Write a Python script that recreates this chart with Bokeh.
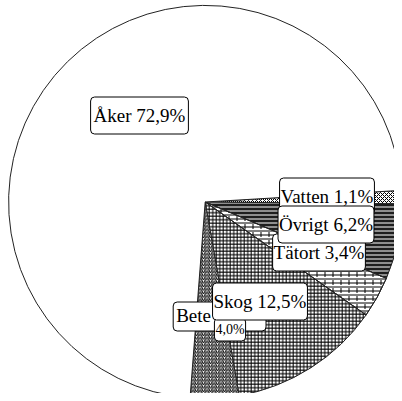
import numpy as np
from bokeh.plotting import figure
from bokeh.models import Range1d, ColumnDataSource
from bokeh.core.properties import value
from bokeh.embed import file_html
from bokeh.resources import INLINE

# ---- data (clockwise from the right-hand side) ----
categories = ["Vatten", "Övrigt", "Tätort", "Skog", "Bete", "Åker"]
shares = [1.1, 6.2, 3.4, 12.5, 4.0, 72.9]

# ---- styles ----
hatch_patterns = ["diagonal_cross", "horizontal_line", "horizontal_line", "cross",
                  "right_diagonal_line", "blank"]
fill_colors = ["white", "#1e1e1e", "white", "white", "white", "white"]
hatch_colors = ["black", "white", "black", "black", "black", "black"]
hatch_scales = [4, 4, 4, 3.5, 3.5, 4]

W, H = 394, 393
CX, CY, R = 204.7, 191.5, 196.6
START_DEG = 3.4

frac = np.array(shares) / sum(shares)
cum = np.cumsum(frac)
a0 = np.deg2rad(START_DEG)
upper = a0 - 2 * np.pi * np.concatenate([[0.0], cum[:-1]])
lower = a0 - 2 * np.pi * cum

src = ColumnDataSource(dict(
    cat=categories, share=shares, start=lower, end=upper,
    hatch=hatch_patterns, fill=fill_colors, hcol=hatch_colors, hscale=hatch_scales,
))

p = figure(width=W, height=H, x_range=Range1d(0, W), y_range=Range1d(0, H),
           output_backend="svg", toolbar_location=None, min_border=0,
           x_axis_type=None, y_axis_type=None, title=None)
p.outline_line_color = None
p.background_fill_color = "white"
p.border_fill_color = "white"

p.wedge(x=CX, y=CY, radius=R, start_angle="start", end_angle="end",
        direction="anticlock", source=src, fill_color="fill",
        hatch_pattern="hatch", hatch_color="hcol", hatch_scale="hscale",
        hatch_weight=1, line_color="#222222", line_width=1)

# brick joints for Tätort
ti = categories.index("Tätort")
p.wedge(x=CX, y=CY, radius=R, start_angle=lower[ti], end_angle=upper[ti],
        direction="anticlock", fill_alpha=0, hatch_pattern="vertical_dash",
        hatch_color="black", hatch_scale=8, hatch_weight=1, line_color="#222222", line_width=1)

def fmt(name, v):
    return f"{name} {v:.1f}%".replace(".", ",")

lab = {c: fmt(c, v) for c, v in zip(categories, shares)}

FONT = value("Liberation Serif")
FS = "19px"
common = dict(text_font=FONT, text_color="black", background_fill_color="white",
              border_line_color="black", border_line_width=1, border_radius=4)

# Åker
p.text(x=[139], y=[278], text=[lab["Åker"]], text_font_size=FS,
       text_align="center", text_baseline="middle", padding=(3, 8), **common)
# Bete (partly hidden)
bi = categories.index("Bete")
p.text(x=[172.7], y=[77], text=[categories[bi]], text_font_size=FS,
       text_align="left", text_baseline="middle", padding=(3, 55, 3, 5), **common)
p.text(x=[229.5], y=[64], text=[f"{shares[bi]:.1f}%".replace(".", ",")],
       text_font_size="14px", text_align="center", text_baseline="middle",
       padding=(1, 4), **common)
# Skog, Tätort, Vatten, Övrigt
for c, x, y in [("Skog", 259.5, 92), ("Tätort", 318.5, 141),
                ("Vatten", 326.5, 197), ("Övrigt", 325.5, 169)]:
    p.text(x=[x], y=[y], text=[lab[c]], text_font_size=FS,
           text_align="center", text_baseline="middle", padding=(1, 8), **common)

open("out.html", "w").write(file_html(p, INLINE))
